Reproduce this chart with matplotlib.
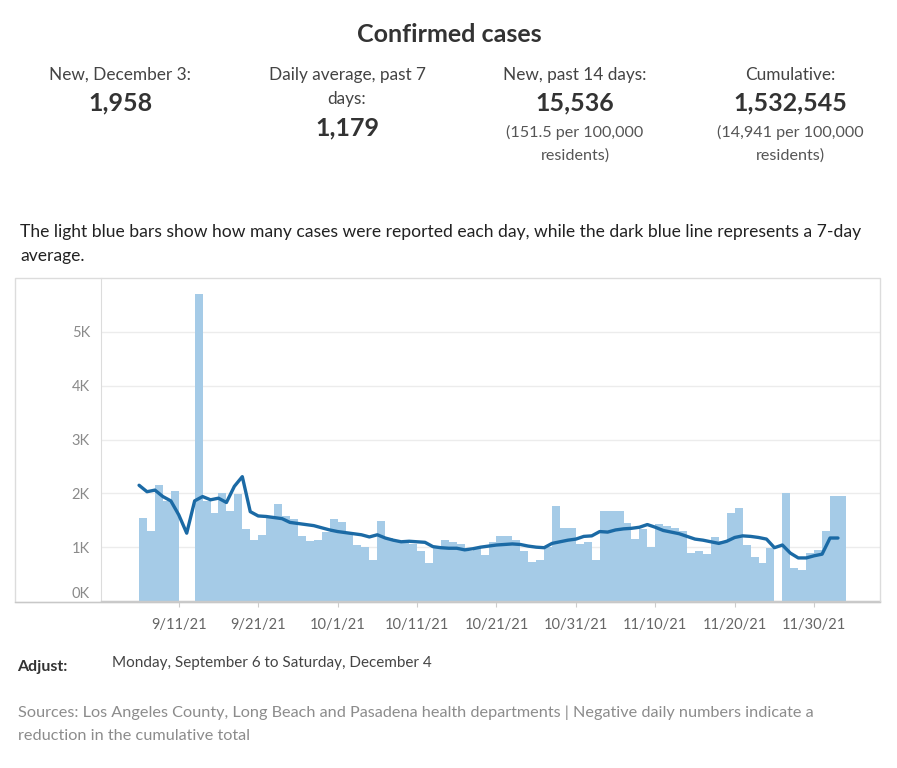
import matplotlib
matplotlib.use("Agg")
import matplotlib.pyplot as plt
from matplotlib.patches import Rectangle
import numpy as np
import pandas as pd

# ---------------- data ----------------
start_date = "2021-09-06"
end_date = "2021-12-03"
# daily new cases (None = no report that day)
daily_cases = [
    1540, 1300, 2160, 1860, 2040, None, None, 5700, 1860, 1630,
    2000, 1680, 1990, 1330, 1130, 1230, 1550, 1800, 1570, 1520,
    1200, 1110, 1130, 1290, 1520, 1470, 1290, 1040, 1000, 760,
    1490, 1170, 1130, 1120, 1050, 920, 710, 1000, 1130, 1100,
    1050, 930, 980, 860, 1100, 1210, 1210, 1130, 920, 730,
    760, 1010, 1760, 1350, 1350, 1060, 1100, 760, 1670, 1670,
    1670, 1440, 1150, 1330, 1010, 1430, 1400, 1350, 1300, 900,
    920, 870, 1180, 1120, 1630, 1720, 1040, 820, 710, 990,
    None, 2000, 620, 580, 900, 950, 1300, 1950, 1958,
]
# 7-day average line
avg_7day = [
    2150, 2030, 2060, 1940, 1860, 1600, 1260, 1860, 1940, 1880,
    1910, 1830, 2130, 2310, 1660, 1580, 1570, 1550, 1530, 1460,
    1440, 1420, 1400, 1360, 1320, 1290, 1270, 1250, 1230, 1190,
    1230, 1170, 1130, 1100, 1110, 1100, 1090, 1010, 990, 980,
    980, 950, 970, 1000, 1020, 1040, 1050, 1060, 1050, 1020,
    1000, 990, 1070, 1100, 1130, 1150, 1200, 1210, 1290, 1280,
    1320, 1340, 1350, 1370, 1420, 1370, 1310, 1280, 1250, 1200,
    1150, 1130, 1100, 1070, 1110, 1180, 1210, 1200, 1180, 1150,
    990, 1040, 890, 800, 800, 840, 870, 1170, 1170,
]
tick_dates = ["2021-09-11", "2021-09-21", "2021-10-01", "2021-10-11", "2021-10-21",
              "2021-10-31", "2021-11-10", "2021-11-20", "2021-11-30"]
y_ticks = [0, 1000, 2000, 3000, 4000, 5000]
y_tick_labels = ["0K", "1K", "2K", "3K", "4K", "5K"]

stat_labels = [["New, December 3:"], ["Daily average, past 7", "days:"],
               ["New, past 14 days:"], ["Cumulative:"]]
stat_values = ["1,958", "1,179", "15,536", "1,532,545"]
stat_notes = [[], [], ["(151.5 per 100,000", "residents)"], ["(14,941 per 100,000", "residents)"]]

# ---------------- figure ----------------
W, H = 897, 768
plt.rcParams["font.family"] = ["Lato", "DejaVu Sans"]
fig = plt.figure(figsize=(W / 100, H / 100), dpi=100)
fig.patch.set_facecolor("white")


def fx(px):
    return px / W


def fy(py):
    return 1 - py / H


# title
fig.text(fx(449), fy(35), "Confirmed cases", ha="center", va="center",
         fontsize=18, fontweight="bold", color="#333333")

# stats row
stat_x = [120, 347, 575, 790]
for i in range(len(stat_values)):
    for k, line in enumerate(stat_labels[i]):
        fig.text(fx(stat_x[i]), fy(75 + 24 * k), line, ha="center", va="center",
                 fontsize=12.4, color="#444444")
    vy = 103 if len(stat_labels[i]) == 1 else 128
    fig.text(fx(stat_x[i]), fy(vy), stat_values[i], ha="center", va="center", fontsize=18,
             fontweight="bold", color="#333333")
    for k, line in enumerate(stat_notes[i]):
        fig.text(fx(stat_x[i]), fy(132 + 24 * k), line, ha="center", va="center",
                 fontsize=11.6, color="#555555")

# description
fig.text(fx(20), fy(232), "The light blue bars show how many cases were reported each day, while the dark blue line represents a 7-day",
         ha="left", va="center", fontsize=12.6, color="#222222")
fig.text(fx(20), fy(256), "average.", ha="left", va="center", fontsize=12.6, color="#222222")

# outer frame of chart panel
fig.patches.append(Rectangle((fx(15), fy(602)), fx(880) - fx(15), fy(278) - fy(602),
                             transform=fig.transFigure, fill=False,
                             edgecolor="#dcdcdc", linewidth=1.0, zorder=0))

# axes
ax = fig.add_axes([fx(101), fy(601), fx(880) - fx(101), fy(278) - fy(601)])
dates = pd.date_range(start_date, end_date, freq="D")
bar_x = [d for d, v in zip(dates, daily_cases) if v is not None]
bar_h = [v for v in daily_cases if v is not None]
ax.bar(bar_x, bar_h, width=1.0, align="edge", color="#a5cbe7", edgecolor="none", zorder=2)
ax.plot(dates, avg_7day, color="#1b6aa5", linewidth=2.4, zorder=3,
        solid_joinstyle="round", solid_capstyle="round")

ax.set_xlim(pd.Timestamp("2021-09-01 05:00"), pd.Timestamp("2021-12-08 07:00"))
ax.set_ylim(0, 6000)

ax.set_yticks(y_ticks)
ax.set_yticklabels(y_tick_labels)
ax.tick_params(axis="y", length=0, pad=8, labelsize=10.5, labelcolor="#8a8a8a")
for t in ax.get_yticklabels():
    if t.get_text() == "0K":
        t.set_va("bottom")
ax.grid(axis="y", color="#ececec", linewidth=1.0, zorder=0)
ax.set_axisbelow(True)

tds = pd.to_datetime(tick_dates)
ax.set_xticks(tds)
ax.set_xticklabels([f"{d.month}/{d.day}/{d.strftime('%y')}" for d in tds])
ax.tick_params(axis="x", length=4, width=0.8, color="#cccccc", pad=8,
               labelsize=10.5, labelcolor="#666666")

for s in ["top", "right"]:
    ax.spines[s].set_visible(False)
ax.spines["left"].set_color("#dcdcdc")
ax.spines["bottom"].set_color("#c8c8c8")
ax.spines["bottom"].set_linewidth(1.0)
ax.set_facecolor("white")

# bottom line extends across the whole panel
fig.lines.append(plt.Line2D([fx(15), fx(880)], [fy(601.5), fy(601.5)], transform=fig.transFigure,
                            color="#c8c8c8", linewidth=1.0))

# adjust row
fig.text(fx(17), fy(667), "Adjust:", ha="left", va="center", fontsize=11.5,
         fontweight="bold", color="#333333")
fig.text(fx(112), fy(663), "Monday, September 6 to Saturday, December 4", ha="left", va="center",
         fontsize=11, color="#444444")

# sources
fig.text(fx(18), fy(713), "Sources: Los Angeles County, Long Beach and Pasadena health departments | Negative daily numbers indicate a",
         ha="left", va="center", fontsize=11.7, color="#8c8c8c")
fig.text(fx(18), fy(736), "reduction in the cumulative total",
         ha="left", va="center", fontsize=11.7, color="#8c8c8c")

fig.savefig("out.png", dpi=100, facecolor="white")
